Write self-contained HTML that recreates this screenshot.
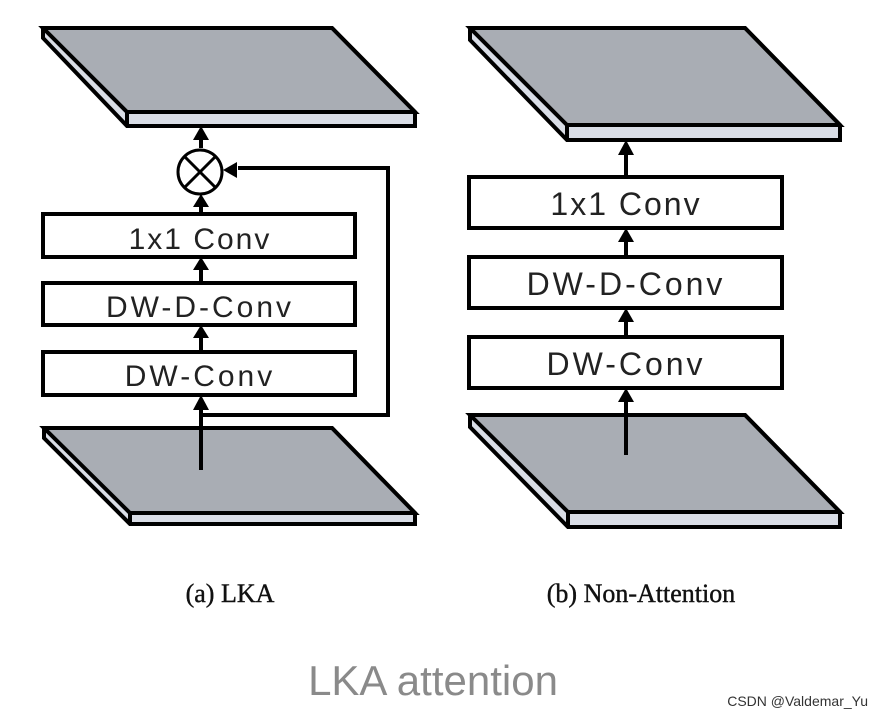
<!DOCTYPE html>
<html><head><style>
body{margin:0;width:879px;height:718px;background:#fff;overflow:hidden;font-family:"Liberation Sans",sans-serif}
</style></head><body>
<svg width="879" height="718" viewBox="0 0 879 718" xmlns="http://www.w3.org/2000/svg">
<g stroke="#000" stroke-width="4" stroke-linejoin="miter">
<polygon points="43,28 43,38 127,126 415,126 415,112 332,28" fill="#d9dde6"/>
<polygon points="43,28 332,28 415,112 127,112" fill="#a9adb4"/>
<line x1="127" y1="112" x2="127" y2="126"/>
<polygon points="44,428 44,438 130,524 415,524 415,513 332,428" fill="#d9dde6"/>
<polygon points="44,428 332,428 415,513 130,513" fill="#a9adb4"/>
<line x1="130" y1="513" x2="130" y2="524"/>
<polygon points="470,28 470,40 567,140 840,140 840,125 745,28" fill="#d9dde6"/>
<polygon points="470,28 745,28 840,125 567,125" fill="#a9adb4"/>
<line x1="567" y1="125" x2="567" y2="140"/>
<polygon points="470,415 470,427 568,527 840,527 840,512 745,415" fill="#d9dde6"/>
<polygon points="470,415 745,415 840,512 568,512" fill="#a9adb4"/>
<line x1="568" y1="512" x2="568" y2="527"/>
<g fill="#fff">
<rect x="43" y="214" width="312" height="43"/>
<rect x="43" y="283" width="312" height="42"/>
<rect x="43" y="352" width="312" height="43"/>
<rect x="469" y="177" width="313" height="51"/>
<rect x="469" y="257" width="313" height="51"/>
<rect x="469" y="337" width="313" height="51"/>
</g>
<g fill="none">
<line x1="201" y1="470" x2="201" y2="405"/>
<line x1="201" y1="350" x2="201" y2="335"/>
<line x1="201" y1="281" x2="201" y2="267"/>
<line x1="201" y1="212" x2="201" y2="200"/>
<line x1="201" y1="148" x2="201" y2="136"/>
<polyline points="201,415 388,415 388,168 238,168"/>
<line x1="626" y1="455" x2="626" y2="398"/>
<line x1="626" y1="335" x2="626" y2="318"/>
<line x1="626" y1="255" x2="626" y2="238"/>
<line x1="626" y1="175" x2="626" y2="150"/>
</g>
<circle cx="200" cy="172" r="22" fill="#fff" stroke-width="3"/>
<line x1="185" y1="157" x2="215" y2="187" stroke-width="3"/><line x1="215" y1="157" x2="185" y2="187" stroke-width="3"/>
</g>
<g fill="#000">
<polygon points="201,395 193,410 209,410"/>
<polygon points="201,325 193,338 209,338"/>
<polygon points="201,257 193,270 209,270"/>
<polygon points="201,194 193,207 209,207"/>
<polygon points="201,126 193,140 209,140"/>
<polygon points="223,170 237,162 237,178"/>
<polygon points="626,388 618,402 634,402"/>
<polygon points="626,308 618,322 634,322"/>
<polygon points="626,228 618,242 634,242"/>
<polygon points="626,140 618,155 634,155"/>
</g>
<g font-family="Liberation Sans, sans-serif" fill="#222" text-anchor="middle">
<text x="200" y="249" font-size="30" letter-spacing="2">1x1 Conv</text>
<text x="200" y="317" font-size="30" letter-spacing="3">DW-D-Conv</text>
<text x="200" y="386" font-size="30" letter-spacing="3">DW-Conv</text>
<text x="626" y="215" font-size="32" letter-spacing="2">1x1 Conv</text>
<text x="626" y="295" font-size="32" letter-spacing="3">DW-D-Conv</text>
<text x="626" y="375" font-size="32" letter-spacing="3">DW-Conv</text>
</g>
<g font-family="Liberation Serif, serif" fill="#111" font-size="26" text-anchor="middle" stroke="#111" stroke-width="0.4">
<text x="230" y="602">(a) LKA</text>
<text x="641" y="602">(b) Non-Attention</text>
</g>
<text x="433" y="695" font-size="42" fill="#8a8a8a" text-anchor="middle" font-family="Liberation Sans, sans-serif">LKA attention</text>
<text x="868" y="706" font-size="14" fill="#333" text-anchor="end" font-family="Liberation Sans, sans-serif">CSDN @Valdemar_Yu</text>
</svg>
</body></html>
